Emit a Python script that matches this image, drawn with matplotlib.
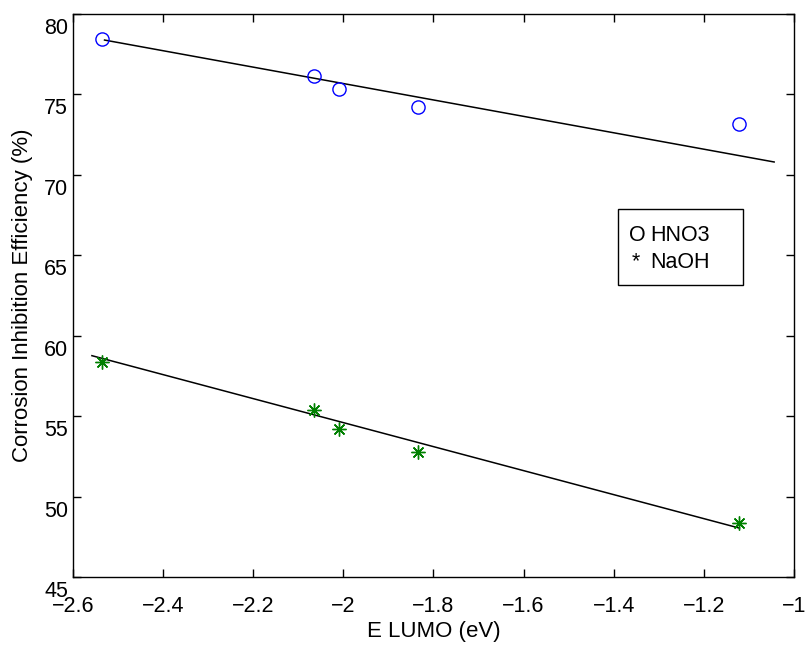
import numpy as np
import matplotlib
matplotlib.use("Agg")
import matplotlib.pyplot as plt
import matplotlib.transforms as mtransforms
from matplotlib.patches import Rectangle

plt.rcParams['font.family'] = ['Liberation Sans', 'DejaVu Sans']

# E LUMO values (eV)
e_lumo = [-2.535, -2.065, -2.010, -1.834, -1.122]
# inhibition efficiency (%)
eff_hno3 = [78.45, 76.15, 75.32, 74.20, 73.16]
eff_naoh = [58.35, 55.39, 54.19, 52.80, 48.35]

# fitted lines as drawn (end points)
fit_hno3_x = [-2.530, -1.044]
fit_hno3_y = [78.38, 70.80]
fit_naoh_x = [-2.558, -1.121]
fit_naoh_y = [58.76, 48.04]

xticks = np.arange(-2.6, -0.99, 0.2)
xticklabels = ['\u22122.6', '\u22122.4', '\u22122.2', '\u22122', '\u22121.8',
               '\u22121.6', '\u22121.4', '\u22121.2', '\u22121']
yticks = np.arange(45, 81, 5)

fig = plt.figure(figsize=(8.11, 6.45), dpi=100)
ax = fig.add_axes([0.090, 0.1054, 0.889, 0.8729])

ax.plot(fit_hno3_x, fit_hno3_y, color='black', lw=1.1)
ax.plot(fit_naoh_x, fit_naoh_y, color='black', lw=1.1)
ax.plot(e_lumo, eff_hno3, linestyle='none', marker='o', ms=9.5,
        mfc='none', mec='blue', mew=1.0)
ax.plot(e_lumo, eff_naoh, linestyle='none', marker=(8, 2, 0), ms=10,
        color=(0, 0.5, 0), mew=1.0)

ax.set_xlim(-2.6, -1)
ax.set_ylim(45, 80)
ax.set_xticks(xticks)
ax.set_xticklabels(xticklabels)
ax.set_yticks(yticks)
ax.tick_params(direction='in', length=6, width=1.0, labelsize=15.5,
               top=True, right=True)
ax.tick_params(axis='x', pad=13.5)
ax.tick_params(axis='y', pad=3.5)
for sp in ax.spines.values():
    sp.set_linewidth(1.0)

# y tick labels sit a bit below their ticks in the original
offset = mtransforms.ScaledTranslation(0, -12 / 100, fig.dpi_scale_trans)
for lab in ax.get_yticklabels():
    lab.set_transform(lab.get_transform() + offset)

ax.set_xlabel('E LUMO (eV)', fontsize=16, labelpad=3)
ax.set_ylabel('Corrosion Inhibition Efficiency (%)', fontsize=16, labelpad=8)

# text legend box
ax.add_patch(Rectangle((0.756, 0.5186), 0.173, 0.135, transform=ax.transAxes,
                       fill=False, edgecolor='black', lw=1.0))
ax.text(0.771, 0.6066, 'O', transform=ax.transAxes, fontsize=15.5, va='center')
ax.text(0.800, 0.6066, 'HNO3', transform=ax.transAxes, fontsize=15.5, va='center')
ax.text(0.775, 0.5595, '*', transform=ax.transAxes, fontsize=15.5, va='center')
ax.text(0.800, 0.5595, 'NaOH', transform=ax.transAxes, fontsize=15.5, va='center')

fig.savefig('out.png', dpi=100)
